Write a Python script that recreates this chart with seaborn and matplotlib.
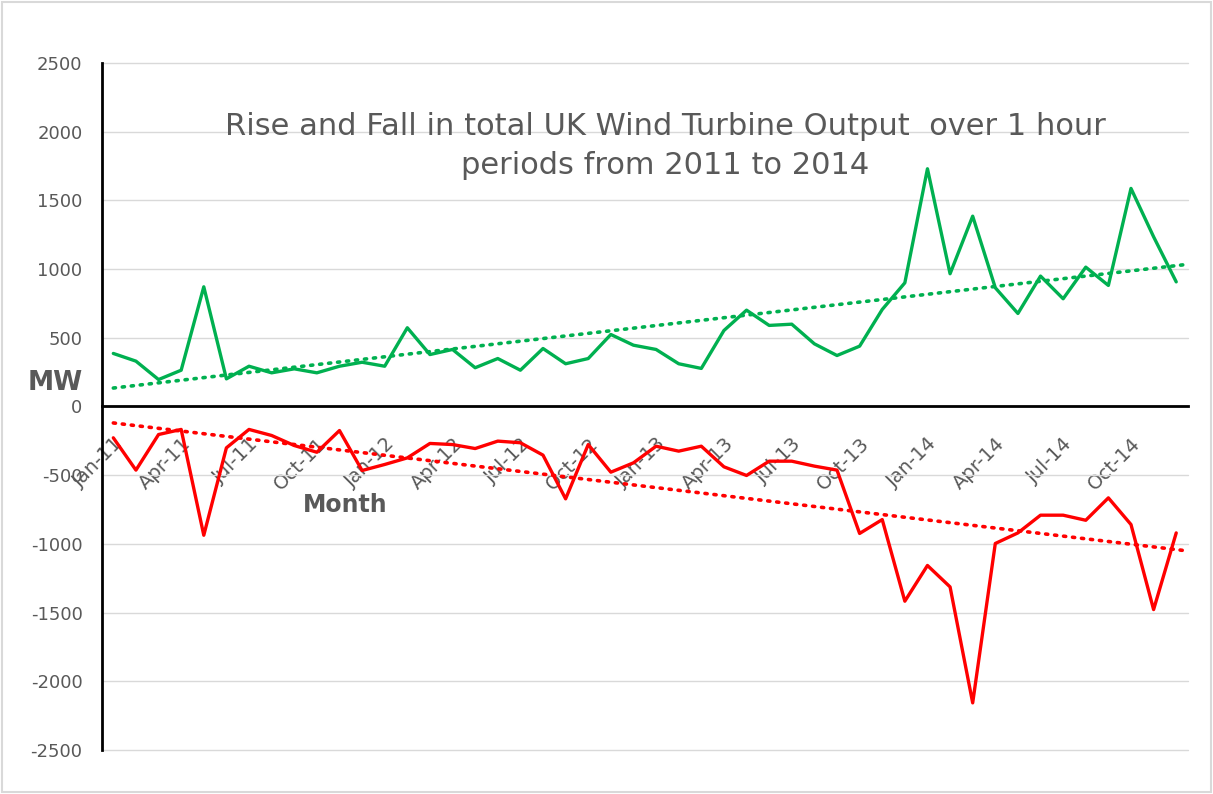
from matplotlib import pyplot as plt
from matplotlib.patches import Rectangle
import pandas as pd
import numpy as np
import seaborn as sns

months = pd.date_range("2011-01-01", periods=48, freq="MS").strftime("%b-%y").tolist()

rise = [386, 330, 196, 264, 871, 201, 293, 245, 274, 245, 293, 322,
        293, 573, 378, 415, 282, 349, 264, 422, 311, 349, 524, 446,
        415, 311, 277, 553, 701, 590, 599, 456, 371, 439, 706, 900,
        1730, 966, 1385, 864, 677, 949, 784, 1014, 881, 1587, 1235, 907]

fall = [-228, -463, -204, -167, -937, -301, -167, -211, -284, -333, -175, -466,
        -422, -374, -269, -277, -306, -252, -264, -354, -672, -277, -478, -410,
        -289, -325, -289, -439, -502, -398, -398, -434, -463, -924, -823, -1417,
        -1157, -1313, -2157, -997, -920, -791, -791, -828, -665, -859, -1478, -920]

data = pd.DataFrame({
    'idx'  : np.arange(len(months)),
    'Month': months,
    'Rise' : rise,
    'Fall' : fall
    })

GREEN = "#00B050"
RED = "#FF0000"
GREY = "#595959"

sns.set_style("white")
plt.rcParams['font.family'] = ['DejaVu Sans']
plt.rcParams['axes.unicode_minus'] = False

fig = plt.figure(figsize = (12.13, 7.94), dpi = 100)
ax = fig.add_axes([0.0841, 0.0554, 0.8949, 0.8653])

# trendlines (linear fit, drawn to the right edge like Excel)
xt = np.array([0, 47.5])
for col, color in [('Rise', GREEN), ('Fall', RED)]:
    slope, icpt = np.polyfit(data['idx'], data[col], 1)
    ax.plot(xt, slope * xt + icpt, color = color, linestyle = (0, (0.6, 1.9)),
            linewidth = 2.6, dash_capstyle = 'round', zorder = 2)

sns.lineplot(data = data, x = 'idx', y = 'Rise', color = GREEN, linewidth = 2.4, ax = ax, zorder = 3)
sns.lineplot(data = data, x = 'idx', y = 'Fall', color = RED, linewidth = 2.4, ax = ax, zorder = 3)

ax.set_xlim(-0.5, 47.5)
ax.set_ylim(-2500, 2500)
ax.set_yticks(np.arange(-2500, 2501, 500))
ax.yaxis.grid(True, color = "#d9d9d9", linewidth = 1)
for gl in ax.yaxis.get_gridlines():
    gl.set_clip_on(False)
ax.set_axisbelow(True)
ax.tick_params(axis = 'y', length = 0, labelsize = 13, labelcolor = GREY, pad = 14)

for s in ['top', 'right']:
    ax.spines[s].set_visible(False)
ax.spines['left'].set_color('black')
ax.spines['left'].set_linewidth(2)
ax.spines['bottom'].set_position(('data', 0))
ax.spines['bottom'].set_color('black')
ax.spines['bottom'].set_linewidth(2)

ax.set_xticks(data['idx'][::3])
ax.set_xticklabels(data['Month'][::3], rotation = 45, ha = 'right', rotation_mode = 'anchor')
ax.set_xticks(np.arange(2.5, 48, 3), minor = True)
ax.tick_params(axis = 'x', which = 'major', length = 0, labelsize = 14, labelcolor = GREY, pad = 20)
ax.tick_params(axis = 'x', which = 'minor', length = 7, width = 2, color = 'black', direction = 'out')
for lbl in ax.get_xticklabels():
    lbl.set_zorder(1)

ax.set_xlabel("")
ax.set_ylabel("")

fig.text(665 / 1213, 1 - 146 / 794, "Rise and Fall in total UK Wind Turbine Output  over 1 hour\nperiods from 2011 to 2014",
         ha = 'center', va = 'center', fontsize = 22, color = GREY, linespacing = 1.4)
fig.text(55 / 1213, 1 - 383 / 794, "MW", ha = 'center', va = 'center', fontsize = 19,
         fontweight = 'bold', color = GREY)
fig.text(345 / 1213, 1 - 505 / 794, "Month", ha = 'center', va = 'center', fontsize = 17,
         fontweight = 'bold', color = GREY)

fig.patches.append(Rectangle((0.002, 0.003), 0.996, 0.994, transform = fig.transFigure,
                             fill = False, edgecolor = "#d9d9d9", linewidth = 1.5))

plt.savefig("out.png", dpi = 100)
